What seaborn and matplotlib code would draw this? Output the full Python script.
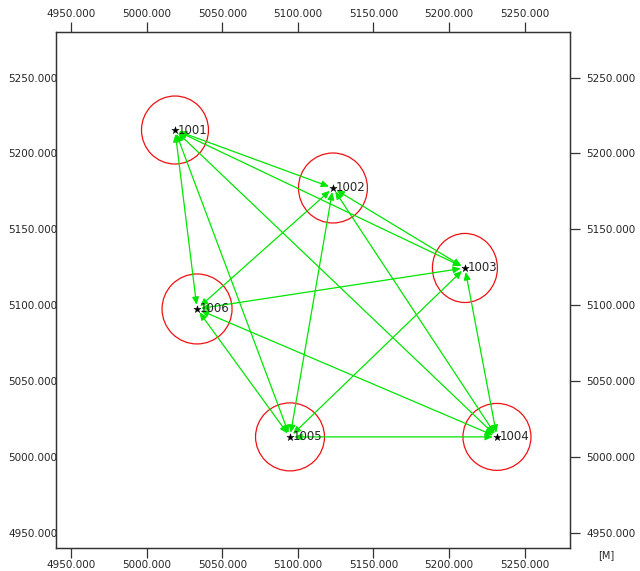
import itertools
import pandas as pd
import seaborn as sns
import matplotlib
matplotlib.use("Agg")
import matplotlib.pyplot as plt
from matplotlib.patches import Ellipse

# Station coordinates
stations = ["1001", "1002", "1003", "1004", "1005", "1006"]
east = [5018.7, 5123.2, 5210.5, 5231.7, 5094.8, 5033.3]
north = [5215.4, 5177.2, 5124.5, 5013.2, 5013.2, 5097.5]

# Error ellipse sizes (full width / height, metres)
ell_w = [44.3, 45.6, 43.0, 45.0, 45.6, 46.3]
ell_h = [44.8, 46.1, 45.5, 44.1, 44.8, 46.1]

# Observed lines: every pair of stations
pairs = list(itertools.combinations(range(len(stations)), 2))

xticks = [4950, 5000, 5050, 5100, 5150, 5200, 5250]
yticks = [4950, 5000, 5050, 5100, 5150, 5200, 5250]

df = pd.DataFrame({"station": stations, "E": east, "N": north})

sns.set_style("white")
plt.rcParams["font.family"] = ["DejaVu Sans"]

fig = plt.figure(figsize=(6.4, 5.71), dpi=100)
ax = fig.add_axes([0.0875, 0.0403, 0.8031, 0.9037])

green = "#00e600"
for i, j in pairs:
    ax.annotate("", xy=(east[j], north[j]), xytext=(east[i], north[i]),
                arrowprops=dict(arrowstyle="<|-|>,head_length=0.45,head_width=0.2",
                                color=green, lw=0.9, shrinkA=3, shrinkB=3))

for k in range(len(stations)):
    ax.add_patch(Ellipse((east[k], north[k]), ell_w[k], ell_h[k],
                         fill=False, edgecolor="#ee1111", lw=0.9))

sns.scatterplot(data=df, x="E", y="N", marker="*", color="black", s=30,
                edgecolor="black", linewidth=0.3, ax=ax, legend=False, zorder=5)
for s, x, y in zip(stations, east, north):
    ax.text(x + 2, y, s, fontsize=8.5, va="center", ha="left", zorder=6)

ax.set_xlim(4940, 5280)
ax.set_ylim(4940, 5280)
ax.set_xlabel("")
ax.set_ylabel("")

ax.set_xticks(xticks)
ax.set_yticks(yticks)
ax.set_xticklabels([f"{v}.000" for v in xticks])
ax.set_yticklabels([f"{v}.000" for v in yticks])

for sp in ax.spines.values():
    sp.set_color("#333333")
    sp.set_linewidth(0.9)

ax.tick_params(axis="x", top=True, bottom=True, labeltop=True,
               labelbottom=True, direction="out", length=7, width=0.9,
               color="#333333", labelsize=7.5, pad=2)
# left side: labels only, sitting right on the frame
ax.tick_params(axis="y", left=False, right=False, labelleft=True,
               labelright=False, length=0, labelsize=7.5, pad=-1)

# right side: outward ticks and labels
ax2 = ax.twinx()
ax2.set_ylim(4940, 5280)
ax2.set_yticks(yticks)
ax2.set_yticklabels([f"{v}.000" for v in yticks])
ax2.tick_params(axis="y", right=True, labelright=True, direction="out",
                length=7, width=0.9, color="#333333", labelsize=7.5, pad=5)
for sp in ax2.spines.values():
    sp.set_color("#333333")
    sp.set_linewidth(0.9)
ax2.grid(False)

fig.text(0.948, 0.028, "[M]", fontsize=7, ha="center", va="center")

fig.savefig("out.png", dpi=100)
